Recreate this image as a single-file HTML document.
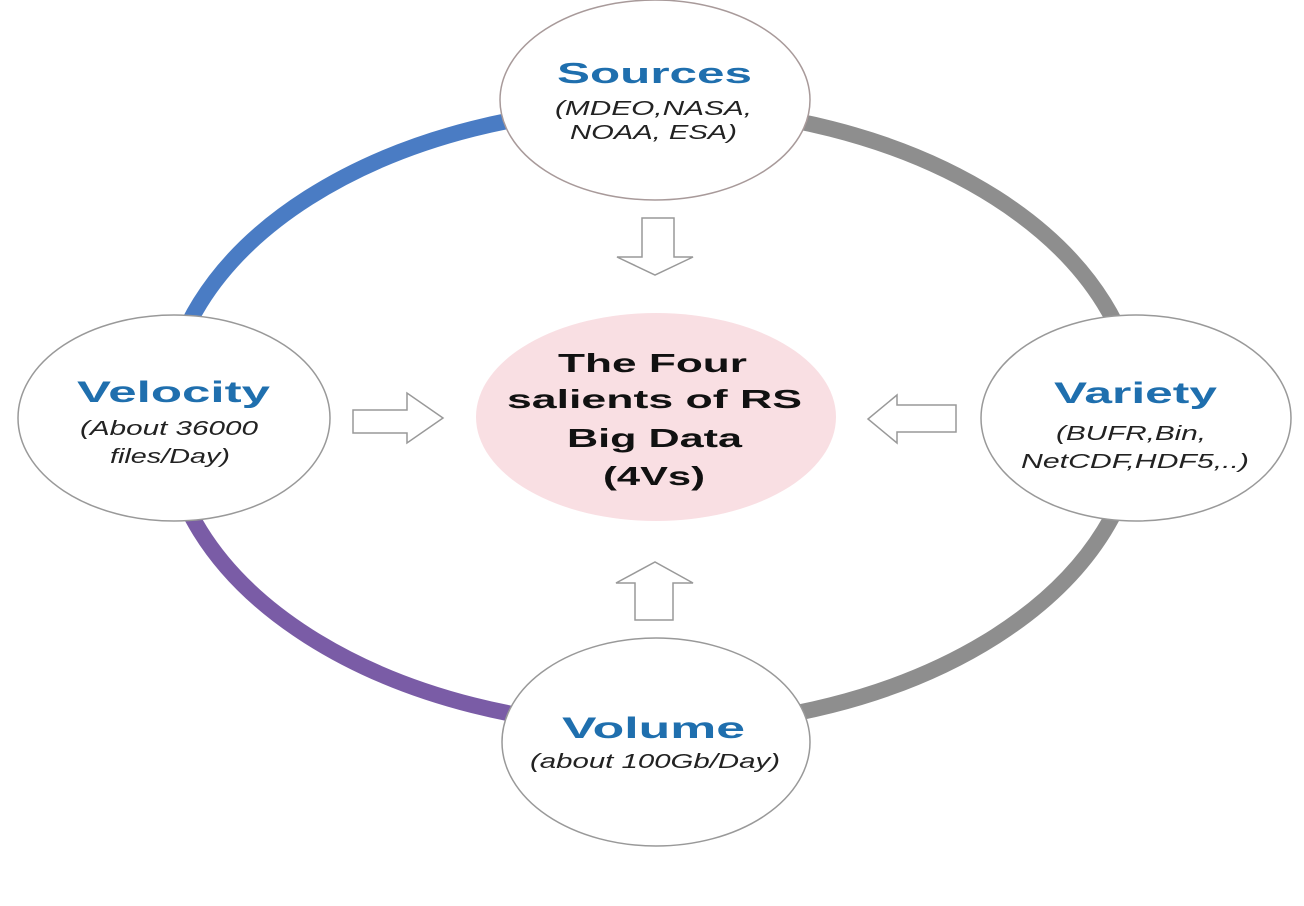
<!DOCTYPE html>
<html><head><meta charset="utf-8"><style>html,body{margin:0;padding:0;background:#fff;}svg{display:block}</style></head>
<body>
<svg width="1304" height="906" viewBox="0 0 1304 906" xmlns="http://www.w3.org/2000/svg">
<rect width="1304" height="906" fill="#fff"/>
<g fill="none" stroke-width="16">
<path d="M652 107 A486 310 0 0 0 166 417" stroke="#4a7cc4"/>
<path d="M166 417 A486 310 0 0 0 652 727" stroke="#7a5ca6"/>
<path d="M652 727 A486 310 0 0 0 1138 417 A486 310 0 0 0 652 107" stroke="#8e8e8e"/>
</g>
<ellipse cx="655" cy="100" rx="155" ry="100" fill="#fff" stroke="#a89a9a" stroke-width="1.5"/>
<ellipse cx="174" cy="418" rx="156" ry="103" fill="#fff" stroke="#999" stroke-width="1.5"/>
<ellipse cx="1136" cy="418" rx="155" ry="103" fill="#fff" stroke="#999" stroke-width="1.5"/>
<ellipse cx="656" cy="742" rx="154" ry="104" fill="#fff" stroke="#999" stroke-width="1.5"/>
<ellipse cx="656" cy="417" rx="180" ry="104" fill="#f9dfe3"/>
<g fill="#fff" stroke="#999" stroke-width="1.5" stroke-linejoin="miter">
<polygon points="642,218 674,218 674,257 693,257 655,275 617,257 642,257"/>
<polygon points="635,620 673,620 673,583 693,583 655,562 616,583 635,583"/>
<polygon points="353,410 407,410 407,393 443,418 407,443 407,433 353,433"/>
<polygon points="956,405 897,405 897,395 868,419 897,443 897,432 956,432"/>
</g>
<g font-family="Liberation Sans, Arial, sans-serif" font-weight="bold" fill="#1f6fae">
<text x="557" y="83" font-size="29" textLength="195" lengthAdjust="spacingAndGlyphs">Sources</text>
<text x="77" y="402" font-size="30" textLength="193" lengthAdjust="spacingAndGlyphs">Velocity</text>
<text x="1054" y="403" font-size="30" textLength="163" lengthAdjust="spacingAndGlyphs">Variety</text>
<text x="562" y="738" font-size="30" textLength="183" lengthAdjust="spacingAndGlyphs">Volume</text>
</g>
<g font-family="Liberation Sans, Arial, sans-serif" font-style="italic" fill="#222" font-size="20">
<text x="555" y="115" textLength="197" lengthAdjust="spacingAndGlyphs">(MDEO,NASA,</text>
<text x="570" y="139" textLength="167" lengthAdjust="spacingAndGlyphs">NOAA, ESA)</text>
<text x="80" y="435" textLength="178" lengthAdjust="spacingAndGlyphs">(About 36000</text>
<text x="110" y="463" textLength="120" lengthAdjust="spacingAndGlyphs">files/Day)</text>
<text x="1056" y="440" textLength="150" lengthAdjust="spacingAndGlyphs">(BUFR,Bin,</text>
<text x="1021" y="468" textLength="228" lengthAdjust="spacingAndGlyphs">NetCDF,HDF5,..)</text>
<text x="530" y="768" textLength="250" lengthAdjust="spacingAndGlyphs">(about 100Gb/Day)</text>
</g>
<g font-family="Liberation Sans, Arial, sans-serif" font-weight="bold" fill="#111" font-size="26">
<text x="558" y="372" textLength="189" lengthAdjust="spacingAndGlyphs">The Four</text>
<text x="507" y="408" textLength="295" lengthAdjust="spacingAndGlyphs">salients of RS</text>
<text x="567" y="447" textLength="175" lengthAdjust="spacingAndGlyphs">Big Data</text>
<text x="603" y="485" textLength="102" lengthAdjust="spacingAndGlyphs">(4Vs)</text>
</g>
</svg>
</body></html>
